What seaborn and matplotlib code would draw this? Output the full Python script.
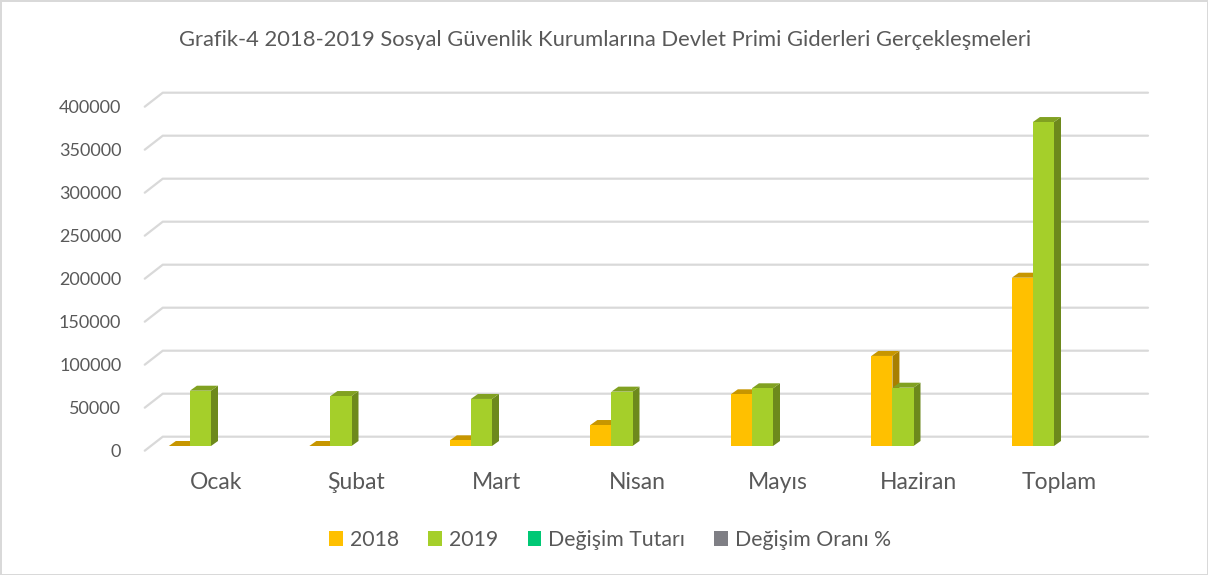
import numpy as np
import pandas as pd
import seaborn as sns
import matplotlib.pyplot as plt
import matplotlib.colors as mcolors
from matplotlib.patches import Polygon
from matplotlib.transforms import ScaledTranslation

months = ["Ocak", "Şubat", "Mart", "Nisan", "Mayıs", "Haziran", "Toplam"]
y2018 = [0, 0, 6600, 24400, 60100, 104700, 195700]
y2019 = [64300, 58100, 54700, 63200, 67100, 67800, 376700]
series = ["2018", "2019", "Değişim Tutarı", "Değişim Oranı %"]
colors = ["#FFC000", "#A5CF2A", "#00C875", "#7F7F85"]
yticks = [0, 50000, 100000, 150000, 200000, 250000, 300000, 350000, 400000]
title = "Grafik-4 2018-2019 Sosyal Güvenlik Kurumlarına Devlet Primi Giderleri Gerçekleşmeleri"

df = pd.DataFrame({
    "Ay": months * 2,
    "Seri": ["2018"] * len(months) + ["2019"] * len(months),
    "Değer": y2018 + y2019,
})

sns.set_style("white")
plt.rcParams["font.family"] = ["Lato", "DejaVu Sans"]
text_col = "#595959"
grid_col = "#D9D9D9"

W, H = 1208, 575
fig = plt.figure(figsize=(W / 100, H / 100), dpi=100)
ax = fig.add_axes([140.75 / W, 129 / H, 983.5 / W, 344 / H])

sns.barplot(data=df, x="Ay", y="Değer", hue="Seri", hue_order=series,
            palette=colors, saturation=1, width=0.6, linewidth=0, ax=ax, zorder=2)
ax.set_xlim(-0.5, 6.5)
ax.set_ylim(0, 400000)
ax.set_xlabel("")
ax.set_ylabel("")
sns.despine(ax=ax, left=True, bottom=True)

to_disp = ax.transData.transform
to_data = ax.transData.inverted().transform

# back wall gridlines with the little diagonal at the left
for v in yticks:
    px, py = to_disp((-0.5, v))
    pts = [(px + 4, py - 4.7), (px + 22, py + 9.3), (1148, py + 9.3)]
    d = to_data(pts)
    ax.plot(d[:, 0], d[:, 1], color=grid_col, lw=1.6, clip_on=False, zorder=0.5)

# fake 3D: top and side faces
def shade(c, f):
    r, g, b, a = mcolors.to_rgba(c)
    return (r * f, g * f, b * f, 1)

dpx, dpy = 7, 5
for bar in list(ax.patches):
    h = bar.get_height()
    if np.isnan(h):
        continue
    x0, y0, w = bar.get_x(), bar.get_y(), bar.get_width()
    (px0, py0), (px1, py1) = to_disp([(x0, y0), (x0 + w, y0 + h)])
    fc = bar.get_facecolor()
    side = [(px1, py0), (px1 + dpx, py0 + dpy), (px1 + dpx, py1 + dpy), (px1, py1)]
    top = [(px0, py1), (px0 + dpx, py1 + dpy), (px1 + dpx, py1 + dpy), (px1, py1)]
    ax.add_patch(Polygon(to_data(side), closed=True, facecolor=shade(fc, 0.66),
                         lw=0, clip_on=False, zorder=1.5))
    ax.add_patch(Polygon(to_data(top), closed=True, facecolor=shade(fc, 0.78),
                         lw=0, clip_on=False, zorder=1.5))

ax.set_yticks(yticks)
ax.set_yticklabels([str(v) for v in yticks])
ax.tick_params(axis="y", length=0, pad=14, labelsize=13, labelcolor=text_col)
ax.tick_params(axis="x", length=0, pad=19, labelsize=16.5, labelcolor=text_col)
for lab in ax.get_yticklabels():
    lab.set_transform(lab.get_transform() + ScaledTranslation(0, -0.047, fig.dpi_scale_trans))
for lab in ax.get_xticklabels():
    lab.set_transform(lab.get_transform() + ScaledTranslation(0.05, 0, fig.dpi_scale_trans))

fig.text(605 / W, 1 - 40 / H, title, ha="center", va="center",
         fontsize=15.8, color=text_col)

sns.move_legend(ax, "center", bbox_to_anchor=(610 / W, 1 - 540 / H),
                bbox_transform=fig.transFigure, ncol=4, frameon=False, title=None,
                fontsize=15.3, handlelength=0.65, handleheight=0.65,
                handletextpad=0.3, columnspacing=1.4)
for t in ax.get_legend().get_texts():
    t.set_color(text_col)

fig.patch.set_edgecolor(grid_col)
fig.patch.set_linewidth(2)
fig.savefig("out.png", dpi=100)
